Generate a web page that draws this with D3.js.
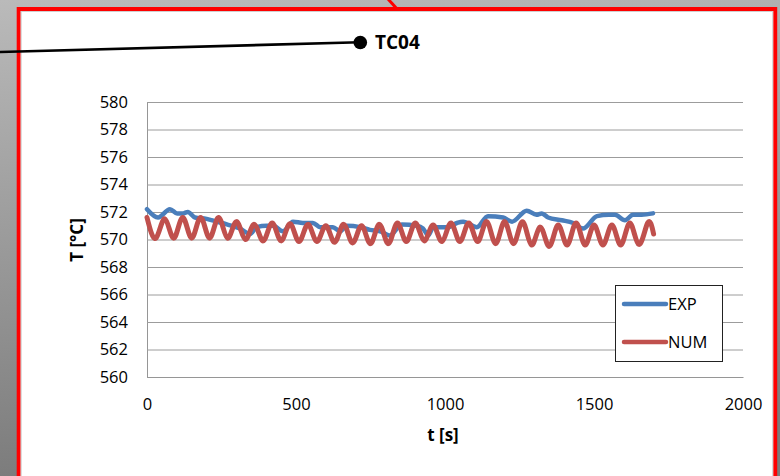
<!DOCTYPE html>
<html>
<head>
<meta charset="utf-8">
<script src="https://cdn.jsdelivr.net/npm/d3@7"></script>
<style>
  html, body { margin: 0; padding: 0; background: #fff; }
  svg { display: block; }
</style>
</head>
<body>
<svg id="chart" width="780" height="476"></svg>
<script>
// ---- data ----
const yTicks = [560, 562, 564, 566, 568, 570, 572, 574, 576, 578, 580];
const xTicks = [0, 500, 1000, 1500, 2000];
const seriesNames = ["EXP", "NUM"];
const probeLabel = "TC04";
const xTitle = "t [s]";
const yTitle = "T [°C]";

// EXP: [t, T]
const expData = [
  [0, 572.2], [37, 571.6], [77, 572.2], [101, 571.9], [121, 571.9], [137, 572.0],
  [161, 571.6], [200, 571.5], [234, 571.3], [268, 571.1], [312, 570.8], [346, 570.4],
  [368, 570.9], [402, 571.0], [423, 571.0], [456, 570.6], [490, 571.3], [523, 571.2],
  [557, 571.2], [581, 570.9], [624, 570.9], [648, 570.6], [670, 571.0], [715, 570.9],
  [748, 570.7], [782, 570.6], [815, 570.3], [855, 571.1], [905, 571.0], [926, 570.8],
  [944, 570.3], [961, 570.9], [1011, 570.9], [1040, 571.2], [1061, 571.3], [1107, 570.9],
  [1144, 571.7], [1195, 571.6], [1225, 571.3], [1274, 572.1], [1307, 571.8], [1325, 571.9],
  [1346, 571.6], [1392, 571.4], [1430, 571.2], [1463, 570.8], [1510, 571.7], [1550, 571.8],
  [1570, 571.8], [1604, 571.4], [1631, 571.8], [1660, 571.8], [1698, 571.9]
];

// NUM: [t, T] (extremes of the oscillation)
const numData = [
  [0, 571.6], [30, 570.1], [60, 571.5], [90, 570.1], [120, 571.6], [150, 570.1],
  [180, 571.6], [210, 570.1], [240, 571.6], [270, 570.1], [300, 571.3], [330, 570.0],
  [360, 571.1], [390, 569.9], [420, 571.2], [450, 569.9], [480, 571.15], [510, 569.85],
  [540, 571.1], [570, 569.85], [600, 571.0], [630, 569.8], [660, 571.1], [690, 569.75],
  [720, 571.0], [750, 569.7], [780, 571.1], [810, 569.7], [840, 571.2], [870, 569.85],
  [900, 571.2], [930, 569.9], [960, 571.05], [990, 569.85], [1020, 571.2], [1050, 569.85],
  [1080, 571.2], [1110, 569.85], [1140, 571.3], [1170, 569.7], [1200, 571.3], [1230, 569.7],
  [1260, 571.3], [1290, 569.6], [1320, 570.9], [1350, 569.5], [1380, 571.05], [1410, 569.6],
  [1440, 571.2], [1470, 569.6], [1500, 571.05], [1530, 569.6], [1560, 571.05], [1590, 569.6],
  [1620, 571.2], [1650, 569.65], [1680, 571.2], [1700, 570.4]
];

const colors = { EXP: "#4a7ebb", NUM: "#c0504d" };

// ---- drawing ----
const svg = d3.select("#chart");
const FONT = "'Open Sans', 'DejaVu Sans', sans-serif";

// background gradient (grey slide)
const defs = svg.append("defs");
const grad = defs.append("linearGradient").attr("id", "bg")
  .attr("x1", 0).attr("y1", 0).attr("x2", 0.15).attr("y2", 1);
grad.append("stop").attr("offset", "0%").attr("stop-color", "#bababa");
grad.append("stop").attr("offset", "100%").attr("stop-color", "#7b7b7b");
svg.append("rect").attr("width", 780).attr("height", 476).attr("fill", "url(#bg)");

// white panel with red border
svg.append("rect").attr("x", 18.7).attr("y", 9).attr("width", 756.5).attr("height", 520)
  .attr("fill", "#ffffff").attr("stroke", "#ff0000").attr("stroke-width", 4);
svg.append("rect").attr("x", 21.2).attr("y", 11.5).attr("width", 751.5).attr("height", 520)
  .attr("fill", "none").attr("stroke", "#cfcfcf").attr("stroke-width", 1);

// red connector line at top
svg.append("line").attr("x1", 388).attr("y1", -1).attr("x2", 398).attr("y2", 10)
  .attr("stroke", "#ff0000").attr("stroke-width", 3);

// probe marker
svg.append("line").attr("x1", 0).attr("y1", 52).attr("x2", 360).attr("y2", 42.3)
  .attr("stroke", "#000").attr("stroke-width", 2.6);
svg.append("circle").attr("cx", 360.3).attr("cy", 42.5).attr("r", 6.8).attr("fill", "#000");
svg.append("text").attr("x", 375).attr("y", 48.5).text(probeLabel)
  .attr("font-family", FONT).attr("font-weight", "bold").attr("font-size", 19)
  .attr("fill", "#000");

// scales
const x = d3.scaleLinear().domain([0, 2000]).range([147, 743]);
const y = d3.scaleLinear().domain([560, 580]).range([377, 102]);

// y axis with grid
const yAxis = d3.axisLeft(y).tickValues(yTicks).tickFormat(d3.format("d"))
  .tickSizeInner(-(743 - 147)).tickSizeOuter(0).tickPadding(19);
const gy = svg.append("g").attr("transform", "translate(147,0)").call(yAxis);
gy.selectAll(".tick line").attr("stroke", "#9c9c9c").attr("stroke-width", 1);
gy.select(".domain").attr("stroke", "#969696").attr("stroke-width", 1);
gy.selectAll("text").attr("font-family", FONT).attr("font-size", 16.5).attr("fill", "#000");

// x axis
const xAxis = d3.axisBottom(x).tickValues(xTicks).tickFormat(d3.format("d"))
  .tickSizeInner(0).tickSizeOuter(0).tickPadding(21);
const gx = svg.append("g").attr("transform", "translate(0,377)").call(xAxis);
gx.select(".domain").attr("stroke", "#969696").attr("stroke-width", 1);
gx.selectAll("text").attr("font-family", FONT).attr("font-size", 16.5).attr("fill", "#000");

// axis titles
svg.append("text").attr("x", 443).attr("y", 441).attr("text-anchor", "middle")
  .attr("font-family", FONT).attr("font-weight", "bold").attr("font-size", 17)
  .text(xTitle);
svg.append("text").attr("transform", "translate(83,240) rotate(-90)")
  .attr("text-anchor", "middle")
  .attr("font-family", FONT).attr("font-weight", "bold").attr("font-size", 17)
  .text(yTitle);

// lines
const lineExp = d3.line().x(d => x(d[0])).y(d => y(d[1])).curve(d3.curveMonotoneX);
const lineNum = d3.line().x(d => x(d[0])).y(d => y(d[1])).curve(d3.curveNatural);
svg.append("path").datum(expData).attr("d", lineExp)
  .attr("fill", "none").attr("stroke", colors.EXP).attr("stroke-width", 4.5)
  .attr("stroke-linejoin", "round").attr("stroke-linecap", "round");
svg.append("path").datum(numData).attr("d", lineNum)
  .attr("fill", "none").attr("stroke", colors.NUM).attr("stroke-width", 5)
  .attr("stroke-linejoin", "round").attr("stroke-linecap", "round");

// legend
const lg = svg.append("g");
lg.append("rect").attr("x", 615.5).attr("y", 285.5).attr("width", 107).attr("height", 76)
  .attr("fill", "#fff").attr("stroke", "#222").attr("stroke-width", 1);
seriesNames.forEach((name, i) => {
  const yy = 304 + i * 38;
  lg.append("line").attr("x1", 624).attr("x2", 666).attr("y1", yy).attr("y2", yy)
    .attr("stroke", colors[name]).attr("stroke-width", 4.5).attr("stroke-linecap", "round");
  lg.append("text").attr("x", 668).attr("y", yy + 6).text(name)
    .attr("font-family", FONT).attr("font-size", 16.5).attr("fill", "#000");
});
</script>
</body>
</html>
